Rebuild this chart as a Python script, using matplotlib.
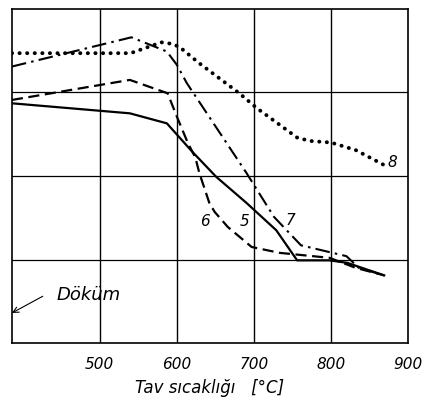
import matplotlib
matplotlib.use("Agg")
import matplotlib.pyplot as plt

# curve 5 (solid)
x5 = [386, 539, 587, 620, 651, 690, 729, 756, 798, 821, 869]
y5 = [2.87, 2.75, 2.63, 2.29, 1.99, 1.68, 1.35, 0.99, 0.99, 0.96, 0.81]
# curve 6 (dashed)
x6 = [386, 539, 588, 600, 614, 624, 629, 642, 649, 666, 697, 733, 798, 832, 869]
y6 = [2.91, 3.15, 2.99, 2.71, 2.40, 2.22, 2.04, 1.68, 1.57, 1.39, 1.15, 1.08, 1.02, 0.90, 0.81]
# curve 7 (dash-dot)
x7 = [386, 541, 587, 600, 613, 690, 726, 761, 820, 836, 869]
y7 = [3.31, 3.66, 3.49, 3.33, 3.11, 2.04, 1.51, 1.17, 1.04, 0.90, 0.81]
# curve 8 (dotted)
x8 = [386, 540, 580, 595, 604, 629, 681, 704, 756, 772, 800, 832, 869]
y8 = [3.47, 3.47, 3.60, 3.58, 3.54, 3.35, 2.99, 2.81, 2.46, 2.42, 2.40, 2.31, 2.13]

xticks = [500, 600, 700, 800, 900]
xticklabels = ["500", "600", "700", "800", "900"]

fig = plt.figure(figsize=(4.26, 4.05), dpi=100)
ax = fig.add_axes([0.028, 0.153, 0.930, 0.825])

for xv in [500, 600, 700, 800]:
    ax.axvline(xv, color="black", lw=1.0)
for yv in [1, 2, 3]:
    ax.axhline(yv, color="black", lw=0.9)

ax.plot(x5, y5, color="black", lw=1.6, ls="-")
ax.plot(x6, y6, color="black", lw=1.6, ls=(0, (5, 2.5)))
ax.plot(x7, y7, color="black", lw=1.5, ls=(0, (7, 2.5, 1.2, 2.5)))
ax.plot(x8, y8, color="black", lw=2.8, ls=(0, (0.05, 1.9)),
        dash_capstyle="round")

lbl = dict(fontsize=11, style="italic", color="black", ha="center", va="center")
ax.text(879, 2.16, "8", **lbl)
ax.text(636, 1.45, "6", **lbl)
ax.text(688, 1.45, "5", **lbl)
ax.text(748, 1.47, "7", **lbl)

ax.text(485, 0.57, "Döküm", fontsize=13, style="italic",
        ha="center", va="center")
ax.annotate("", xy=(386, 0.36), xytext=(426, 0.56),
            arrowprops=dict(arrowstyle="->", color="black", lw=0.8,
                            shrinkA=0, shrinkB=0))

ax.set_xlim(386, 900)
ax.set_ylim(0, 4)
ax.set_xticks(xticks)
ax.set_xticklabels(xticklabels, fontsize=11, style="italic")
ax.tick_params(axis="x", length=0, pad=10)
ax.set_yticks([])
for s in ax.spines.values():
    s.set_color("black")
    s.set_linewidth(1.2)

ax.set_xlabel("Tav sıcaklığı   [°C]", fontsize=12, style="italic", labelpad=5)

fig.savefig("out.png", dpi=100)
